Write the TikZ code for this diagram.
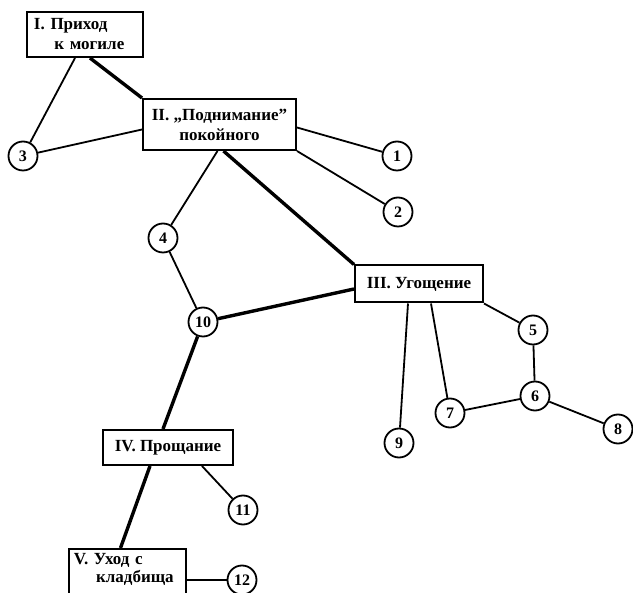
\documentclass[tikz,border=0pt]{standalone}
\usepackage{fontspec}
\setmainfont{Liberation Serif}
\begin{document}
\begin{tikzpicture}[x=1pt,y=-1pt,
  box/.style={draw,line width=2pt,rectangle,inner sep=0pt,font=\fontsize{17}{20}\selectfont\bfseries},
  num/.style={draw,circle,line width=1.8pt,minimum size=29pt,inner sep=0pt,font=\fontsize{16}{18}\selectfont\bfseries},
  thin/.style={line width=1.8pt},
  heavy/.style={line width=3.4pt}]
\useasboundingbox (0,0) rectangle (633,593);
\clip (0,0) rectangle (633,593);
% boxes
\node[box,minimum width=116pt,minimum height=45pt,text width=102pt,align=left] (I) at (85,34.5) {I. Приход\\\hspace*{1.2em}к могиле};
\node[box,minimum width=153pt,minimum height=51pt,align=center] (II) at (219.5,124.5) {II. „Поднимание”\\покойного};
\node[box,minimum width=128pt,minimum height=37pt] (III) at (419,284) {III. Угощение};
\node[box,minimum width=130pt,minimum height=35pt] (IV) at (168,447.5) {IV. Прощание};
\node[box,minimum width=117pt,text width=107pt,inner ysep=4pt,align=left,anchor=north,
  font=\fontsize{17}{18}\selectfont\bfseries] (V) at (127.5,548) {V. Уход с\\\hspace*{1.3em}кладбища\\\strut};
% circles
\node[num] (c1) at (397,156) {1};
\node[num] (c2) at (398,212) {2};
\node[num] (c3) at (23,156) {3};
\node[num] (c4) at (163,238) {4};
\node[num] (c5) at (533,330) {5};
\node[num] (c6) at (535,396) {6};
\node[num] (c7) at (450,413) {7};
\node[num] (c8) at (618,429) {8};
\node[num] (c9) at (399,443) {9};
\node[num] (c10) at (203,322) {10};
\node[num] (c11) at (243,510) {11};
\node[num] (c12) at (242,580) {12};
% connectors
\draw[thin] ([xshift=-10pt]I.south) -- (c3);
\draw[heavy] ([xshift=5pt]I.south) -- (II.north west);
\draw[thin] (c3) -- ([yshift=-5pt]II.west);
\draw[thin] ([yshift=-3pt]II.east) -- (c1);
\draw[thin] (II.south east) -- (c2);
\draw[thin] ([xshift=-2pt]II.south) -- (c4);
\draw[heavy] ([xshift=4pt]II.south) -- (III.north west);
\draw[thin] (c4) -- (c10);
\draw[heavy] (c10) -- ([yshift=-5pt]III.west);
\draw[thin] ([xshift=-11pt]III.south) -- (c9);
\draw[thin] ([xshift=12pt]III.south) -- (c7);
\draw[thin] (III.south east) -- (c5);
\draw[thin] (c5) -- (c6);
\draw[thin] (c6) -- (c7);
\draw[thin] (c6) -- (c8);
\draw[heavy] (c10) -- ([xshift=-5pt]IV.north);
\draw[heavy] ([xshift=-18pt]IV.south) -- ([xshift=-7pt]V.north);
\draw[thin] ([xshift=34pt]IV.south) -- (c11);
\draw[thin] ([yshift=-32pt]V.north east) -- (c12);
\end{tikzpicture}
\end{document}
